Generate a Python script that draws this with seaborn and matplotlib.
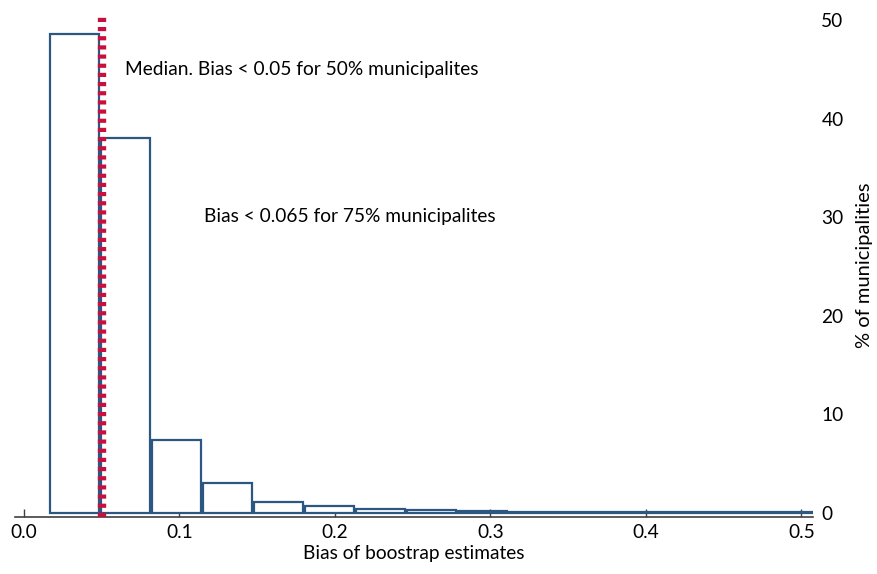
import matplotlib
matplotlib.use("Agg")
import matplotlib.pyplot as plt
import seaborn as sns
import numpy as np
import pandas as pd

# Data
bin_edges = [0.016, 0.0488, 0.0816, 0.1144, 0.1472, 0.18, 0.2128, 0.2456,
             0.2784, 0.3112, 0.344, 0.3768, 0.4096, 0.4424, 0.4752, 0.508]
pct_municipalities = [48.6, 38.0, 7.4, 3.0, 1.1, 0.68, 0.4, 0.27, 0.2, 0.13,
                      0.1, 0.1, 0.1, 0.1, 0.1]
median_bias = 0.05
x_ticks = [0.0, 0.1, 0.2, 0.3, 0.4, 0.5]
y_ticks = [0, 10, 20, 30, 40, 50]
annot_median = "Median. Bias < 0.05 for 50% municipalites"
annot_q75 = "Bias < 0.065 for 75% municipalites"

centers = [(a + b) / 2 for a, b in zip(bin_edges[:-1], bin_edges[1:])]
df = pd.DataFrame({"bias": centers, "pct": pct_municipalities})

sns.set_theme(style="white")
plt.rcParams["font.family"] = ["Lato", "DejaVu Sans"]
plt.rcParams["text.color"] = "black"
plt.rcParams["axes.labelcolor"] = "black"
plt.rcParams["xtick.color"] = "black"
plt.rcParams["ytick.color"] = "black"

fig = plt.figure(figsize=(8.77, 5.74), dpi=100)
ax = fig.add_axes([15/877, 57/574, (813-15)/877, (517-13)/574])

bar_color = "#2D5783"
sns.histplot(data=df, x="bias", weights="pct", bins=bin_edges, stat="count",
             fill=True, color="white", edgecolor=bar_color, linewidth=1.6,
             shrink=0.96, alpha=1, ax=ax)

ax.axvline(median_bias, color="#C8103E", lw=6, linestyle=(0, (0.5, 0.6)), zorder=5)

fs = 13.8
ax.text(0.065, 45.0, annot_median, fontsize=fs, va="center", ha="left")
ax.text(0.116, 30.1, annot_q75, fontsize=fs, va="center", ha="left")

ax.set_xlim(-0.0058, 0.5075)
ax.set_ylim(-0.4, 50.7)
ax.set_xticks(x_ticks)
ax.set_xticklabels([f"{v:.1f}" for v in x_ticks])
ax.set_yticks(y_ticks)
ax.set_yticklabels([str(v) for v in y_ticks])

ax.yaxis.tick_right()
ax.yaxis.set_label_position("right")
for s in ["left", "right", "top"]:
    ax.spines[s].set_visible(False)
ax.spines["bottom"].set_color("#404040")
ax.spines["bottom"].set_linewidth(1.2)

ax.tick_params(axis="x", direction="in", length=6, width=1, color="#404040",
               labelsize=fs, pad=5, bottom=True)
ax.tick_params(axis="y", length=0, labelsize=fs, pad=6, right=False, left=False)

ax.set_xlabel("Bias of boostrap estimates", fontsize=fs, labelpad=3)
ax.set_ylabel("% of municipalities", fontsize=14.5, labelpad=9)
ax.grid(False)

fig.savefig("out.png", dpi=100)
